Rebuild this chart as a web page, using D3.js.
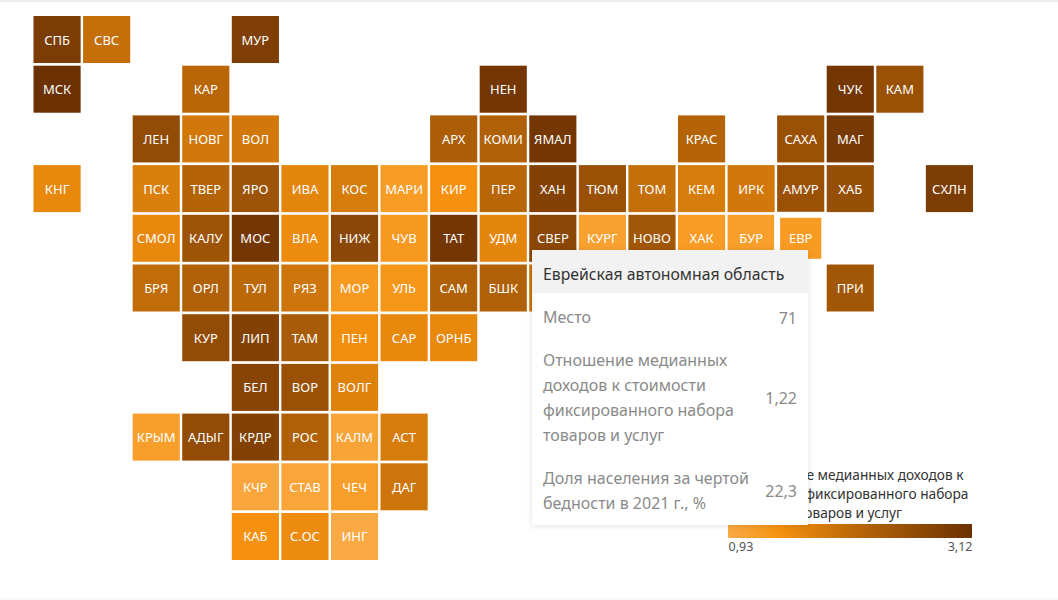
<!DOCTYPE html>
<html>

<head>
  <meta charset="utf-8">
  <title>Отношение медианных доходов</title>
  <script src="https://d3js.org/d3.v7.min.js"></script>
  <style>
    html, body {
      margin: 0;
      background: #fff;
      overflow: hidden;
    }

    body {
      font-family: "Noto Sans", sans-serif;
    }

    svg {
      position: absolute;
      left: 0;
      top: 0;
    }

    .tile-label {
      fill: #fff;
      font-size: 13px;
      text-anchor: middle;
      dominant-baseline: central;
    }

    .legend-title {
      fill: #333;
      font-size: 13.7px;
      text-anchor: middle;
    }

    .legend-axis text {
      fill: #555;
      font-size: 12.5px;
      font-family: "Noto Sans", sans-serif;
    }

    #tooltip {
      position: absolute;
      left: 532px;
      top: 250px;
      width: 276px;
      height: 275px;
      background: #fff;
      box-shadow: 0 1px 6px rgba(0, 0, 0, 0.12);
    }

    #tooltip .head {
      height: 43px;
      line-height: 49px;
      padding-left: 11px;
      background: #f2f2f2;
      color: #333;
      font-size: 15.8px;
    }

    #tooltip .row {
      position: relative;
      margin: 0 11px 18px;
      line-height: 25px;
      font-size: 16px;
      color: #8a8a8a;
    }

    #tooltip .row:nth-child(2) {
      margin-top: 12px;
    }

    #tooltip .val {
      position: absolute;
      right: 0;
      top: 50%;
      transform: translateY(-50%);
    }
  </style>
</head>

<body>
  <svg></svg>
  <div id="tooltip"></div>

  <script>
    // tile map: every row lists its regions by column, "" is an empty slot
    var tileNames = [
      ["СПБ", "СВС", "", "", "МУР"],
      ["МСК", "", "", "КАР", "", "", "", "", "", "НЕН", "", "", "", "", "", "", "ЧУК", "КАМ"],
      ["", "", "ЛЕН", "НОВГ", "ВОЛ", "", "", "", "АРХ", "КОМИ", "ЯМАЛ", "", "", "КРАС", "", "САХА", "МАГ"],
      ["КНГ", "", "ПСК", "ТВЕР", "ЯРО", "ИВА", "КОС", "МАРИ", "КИР", "ПЕР", "ХАН", "ТЮМ", "ТОМ", "КЕМ", "ИРК", "АМУР", "ХАБ", "", "СХЛН"],
      ["", "", "СМОЛ", "КАЛУ", "МОС", "ВЛА", "НИЖ", "ЧУВ", "ТАТ", "УДМ", "СВЕР", "КУРГ", "НОВО", "ХАК", "БУР", "ЕВР"],
      ["", "", "БРЯ", "ОРЛ", "ТУЛ", "РЯЗ", "МОР", "УЛЬ", "САМ", "БШК", "ЧЕЛ", "", "", "", "", "", "ПРИ"],
      ["", "", "", "КУР", "ЛИП", "ТАМ", "ПЕН", "САР", "ОРНБ"],
      ["", "", "", "", "БЕЛ", "ВОР", "ВОЛГ"],
      ["", "", "КРЫМ", "АДЫГ", "КРДР", "РОС", "КАЛМ", "АСТ"],
      ["", "", "", "", "КЧР", "СТАВ", "ЧЕЧ", "ДАГ"],
      ["", "", "", "", "КАБ", "С.ОС", "ИНГ"]
    ];

    var tileValues = [
      [2.9, 1.95, 0, 0, 2.85],
      [3.12, 0, 0, 2.1, 0, 0, 0, 0, 0, 3.0, 0, 0, 0, 0, 0, 0, 3.0, 2.5],
      [0, 0, 2.6, 1.8, 1.8, 0, 0, 0, 2.25, 2.2, 3.0, 0, 0, 2.15, 0, 2.5, 2.95],
      [1.55, 0, 1.7, 2.15, 2.45, 1.6, 1.75, 1.2, 1.4, 2.1, 2.8, 2.5, 1.95, 1.75, 1.8, 2.5, 2.55, 0, 2.9],
      [0, 0, 1.55, 2.45, 3.0, 1.5, 2.7, 1.25, 3.0, 1.6, 2.7, 1.1, 2.4, 1.2, 1.15, 1.22],
      [0, 0, 2.0, 2.2, 2.05, 1.85, 1.25, 1.3, 2.2, 2.2, 1.9, 0, 0, 0, 0, 0, 2.4],
      [0, 0, 0, 2.6, 2.8, 2.3, 1.45, 1.55, 1.55],
      [0, 0, 0, 0, 2.75, 2.5, 1.65],
      [0, 0, 1.15, 2.6, 2.8, 2.2, 1.05, 1.75],
      [0, 0, 0, 0, 1.0, 1.02, 1.15, 1.85],
      [0, 0, 0, 0, 1.4, 1.5, 0.93]
    ];

    var colorStops = [0.93, 1.39, 2.03, 3.12];
    var colorRange = ["#f9aa45", "#f7920f", "#bd6a08", "#6b3103"];

    var legendTicks = [0.93, 3.12];
    var legendLines = ["Отношение медианных доходов к", "стоимости фиксированного набора", "товаров и услуг"];

    var hoverName = "ЕВР";
    var tooltipTitle = "Еврейская автономная область";
    var tooltipLabels = [
      ["Место"],
      ["Отношение медианных", "доходов к стоимости", "фиксированного набора", "товаров и услуг"],
      ["Доля населения за чертой", "бедности в 2021 г., %"]
    ];
    var tooltipValues = ["71", "1,22", "22,3"];

    var svgWidth = 1058,
      svgHeight = 600;

    var svg = d3.select("svg")
      .attr("width", svgWidth)
      .attr("height", svgHeight);

    // thin page rules at the top and bottom of the screenshot
    svg.append("rect").attr("width", svgWidth).attr("height", 2).attr("fill", "#ececec");
    svg.append("rect").attr("y", 597).attr("width", svgWidth).attr("height", 3).attr("fill", "#fafafa");

    var x = d3.scaleBand().domain(d3.range(19)).range([33.5, 973]).paddingInner(0.049);
    var y = d3.scaleBand().domain(d3.range(tileNames.length)).range([16, 560]).paddingInner(0.054);
    var color = d3.scaleLinear().domain(colorStops).range(colorRange);

    var tiles = [];
    tileNames.forEach(function (row, r) {
      row.forEach(function (name, c) {
        if (name) tiles.push({ name: name, row: r, col: c, value: tileValues[r][c] });
      });
    });

    var tile = svg.append("g").selectAll("g")
      .data(tiles)
      .enter()
      .append("g")
      .attr("transform", function (d) { return "translate(" + [x(d.col), y(d.row)] + ")"; });

    tile.append("rect")
      .attr("width", x.bandwidth())
      .attr("height", y.bandwidth())
      .attr("fill", function (d) { return color(d.value); })
      .attr("stroke", function (d) { return d.name === hoverName ? "#fff" : "none"; })
      .attr("stroke-width", 6);

    tile.append("text")
      .attr("class", "tile-label")
      .attr("x", x.bandwidth() / 2)
      .attr("y", y.bandwidth() / 2)
      .text(function (d) { return d.name; });

    // hovered tile sits above its neighbours so the white outline shows
    tile.filter(function (d) { return d.name === hoverName; }).raise();

    // legend
    var legendX = d3.scaleLinear().domain(d3.extent(colorStops)).range([728, 972]);

    var gradient = svg.append("defs").append("linearGradient").attr("id", "legend-gradient");
    gradient.selectAll("stop")
      .data(colorStops)
      .enter()
      .append("stop")
      .attr("offset", function (d) { return (d - colorStops[0]) / (colorStops[3] - colorStops[0]); })
      .attr("stop-color", function (d) { return color(d); });

    svg.append("rect")
      .attr("x", legendX.range()[0])
      .attr("y", 524)
      .attr("width", legendX.range()[1] - legendX.range()[0])
      .attr("height", 14)
      .attr("fill", "url(#legend-gradient)");

    svg.append("g").selectAll("text")
      .data(legendLines)
      .enter()
      .append("text")
      .attr("class", "legend-title")
      .attr("x", 850)
      .attr("y", function (d, i) { return 480 + i * 19; })
      .text(function (d) { return d; });

    var legendAxis = svg.append("g")
      .attr("class", "legend-axis")
      .attr("transform", "translate(0,538)")
      .call(d3.axisBottom(legendX)
        .tickValues(legendTicks)
        .tickSize(0)
        .tickPadding(4)
        .tickFormat(function (d) { return d3.format(".2f")(d).replace(".", ","); }));

    legendAxis.select(".domain").remove();
    legendAxis.selectAll("text")
      .attr("text-anchor", function (d, i) { return i === 0 ? "start" : "end"; });

    // tooltip frozen over the map, as in the screenshot
    var tooltip = d3.select("#tooltip");
    tooltip.append("div").attr("class", "head").text(tooltipTitle);

    var rows = tooltip.selectAll(".row")
      .data(tooltipLabels)
      .enter()
      .append("div")
      .attr("class", "row");

    rows.selectAll(".line")
      .data(function (d) { return d; })
      .enter()
      .append("div")
      .attr("class", "line")
      .text(function (d) { return d; });

    rows.append("div")
      .attr("class", "val")
      .text(function (d, i) { return tooltipValues[i]; });
  </script>
</body>

</html>
